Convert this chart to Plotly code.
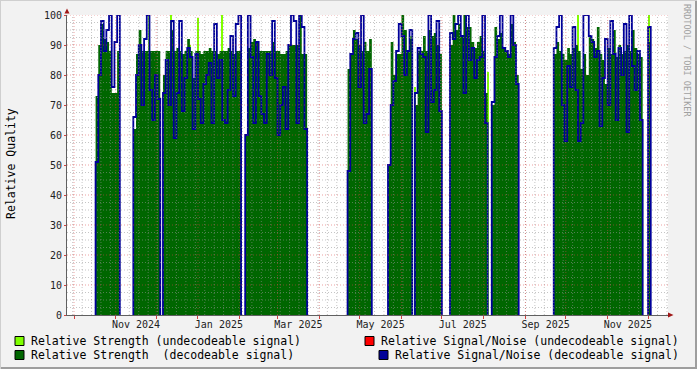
import plotly.graph_objects as go
from datetime import datetime, timedelta

# ---------------- data ----------------
STEP_DAYS = 2  # consolidation step of the RRD archive

seg_starts = ["2024-10-17", "2024-11-14", "2024-12-06", "2025-02-05", "2025-04-22",
              "2025-05-22", "2025-06-11", "2025-07-07", "2025-08-07", "2025-09-22",
              "2025-12-01"]

strength_seg1 = [73, 90, 97, 92, 91, 88, 74, 74, 88]
snr_seg1 = [51, 80, 98, 88, 95, 100, 76, 91, 100]

strength_seg2 = [62, 87, 95, 88, 88, 88, 88, 88, 88, 88]
snr_seg2 = [66, 80, 90, 70, 92, 100, 75, 65, 80, 72]

strength_seg3 = [80, 88, 88, 95, 88, 89, 88, 87, 88, 92, 88, 79, 88, 88, 87,
                 88, 88, 89, 88, 88, 87, 88, 88, 88, 89, 88, 87, 88, 88]
snr_seg3 = [74, 85, 70, 98, 59, 74, 98, 68, 79, 89, 86, 62, 87, 72, 64,
            77, 80, 84, 64, 97, 79, 85, 65, 64, 75, 93, 73, 97, 100]

strength_seg4 = [60, 89, 91, 92, 91, 88, 88, 88, 88, 88, 91, 88, 88, 87, 87,
                 88, 90, 90, 90, 90, 100, 87, 87]
snr_seg4 = [60, 100, 86, 64, 91, 73, 67, 64, 87, 80, 98, 79, 60, 70, 76,
            62, 90, 100, 98, 64, 100, 96, 62]

strength_seg5 = [82, 87, 95, 92, 90, 88, 91, 88, 92]
snr_seg5 = [48, 87, 92, 94, 76, 100, 64, 67, 82]

strength_seg6 = [50, 91, 80, 87, 87, 100, 95, 88, 92]
snr_seg6 = [50, 70, 78, 88, 97, 93, 80, 88, 95]

strength_seg7 = [70, 88, 88, 93, 88, 95, 93, 94, 90, 87]
snr_seg7 = [74, 89, 87, 86, 61, 100, 71, 75, 98, 68]

strength_seg8 = [90, 100, 95, 97, 93, 100, 96, 96, 91, 89, 91, 93, 88, 74]
snr_seg8 = [94, 92, 97, 100, 93, 74, 100, 85, 89, 79, 85, 86, 100, 64]

strength_seg9 = [70, 96, 92, 94, 89, 88, 87, 97, 91, 80]
snr_seg9 = [71, 86, 93, 100, 89, 88, 86, 100, 90, 77]

strength_seg10 = [87, 91, 88, 87, 85, 89, 87, 89, 90, 88, 82, 87, 80, 93, 92, 89, 96,
                  87, 85, 77, 89, 87, 95, 86, 90, 87, 88, 90, 88, 95, 89, 87, 86]
snr_seg10 = [89, 96, 100, 70, 58, 83, 76, 96, 75, 58, 64, 100, 100, 93, 91, 86, 88,
             63, 79, 92, 70, 98, 87, 65, 89, 80, 97, 61, 100, 83, 75, 88, 65]

strength_seg11 = [91]
snr_seg11 = [96]

# undecodeable strength (thin spikes, one-day samples)
undec_dates = ["2024-11-26", "2024-12-12", "2024-12-26", "2025-01-01", "2025-01-19",
               "2025-05-25", "2025-06-08", "2025-06-11", "2025-07-23", "2025-08-04",
               "2025-10-10", "2025-10-26", "2025-12-02"]
undec_strength = [100, 100, 90, 99, 100, 89, 93, 76, 91, 81, 100, 77, 100]

strength_segs = [strength_seg1, strength_seg2, strength_seg3, strength_seg4, strength_seg5,
                 strength_seg6, strength_seg7, strength_seg8, strength_seg9, strength_seg10,
                 strength_seg11]
snr_segs = [snr_seg1, snr_seg2, snr_seg3, snr_seg4, snr_seg5, snr_seg6, snr_seg7,
            snr_seg8, snr_seg9, snr_seg10, snr_seg11]

# axis text
y_ticks = [0, 10, 20, 30, 40, 50, 60, 70, 80, 90, 100]
x_label_dates = ["2024-11-16", "2025-01-16 12:00", "2025-03-16 12:00", "2025-05-16 12:00",
                 "2025-07-16 12:00", "2025-09-16", "2025-11-16"]
x_label_text = ["Nov 2024", "Jan 2025", "Mar 2025", "May 2025", "Jul 2025", "Sep 2025", "Nov 2025"]
month_starts = ["2024-10-01", "2024-11-01", "2024-12-01", "2025-01-01", "2025-02-01",
                "2025-03-01", "2025-04-01", "2025-05-01", "2025-06-01", "2025-07-01",
                "2025-08-01", "2025-09-01", "2025-10-01", "2025-11-01", "2025-12-01"]
x_range = ["2024-09-25 19:00", "2025-12-15 19:00"]

legend_items = [
    ("Relative Strength (undecodeable signal)", "#7FFF00"),
    ("Relative Signal/Noise (undecodeable signal)", "#FF0000"),
    ("Relative Strength  (decodeable signal)", "#006600"),
    ("Relative Signal/Noise (decodeable signal)", "#000099"),
]

# ---------------- figure ----------------
W, H = 697, 369
L, R, T, B = 67, 668, 15, 315
FONT = "DejaVu Sans Mono"


def px_x(p):
    return (p - L) / (R - L)


def px_y(p):
    return (B - p) / (B - T)


fig = go.Figure()

# undecodeable strength spikes
fig.add_trace(go.Bar(x=undec_dates, y=undec_strength, width=86400000,
                     marker=dict(color="#7FFF00", line=dict(width=0)),
                     showlegend=False, hoverinfo="skip"))

snr_x, snr_y = [], []
for start, st, sn in zip(seg_starts, strength_segs, snr_segs):
    d0 = datetime.strptime(start, "%Y-%m-%d")
    xs = [d0 + timedelta(days=STEP_DAYS * i) for i in range(len(st))]
    end = d0 + timedelta(days=STEP_DAYS * len(st))
    fig.add_trace(go.Scatter(x=xs + [end], y=st + [st[-1]], mode="lines",
                             line=dict(width=0, shape="hv"), fill="tozeroy",
                             fillcolor="#006600", showlegend=False, hoverinfo="skip"))
    snr_x += [d0] + xs + [end, end, None]
    snr_y += [0] + sn + [sn[-1], 0, None]

fig.add_trace(go.Scatter(x=snr_x, y=snr_y, mode="lines",
                         line=dict(color="#000099", width=1.8, shape="hv"),
                         connectgaps=False, showlegend=False, hoverinfo="skip"))

shapes = []
# grid (drawn above data like rrdtool)
minor_col = "rgba(150,150,150,0.55)"
major_col = "rgba(220,70,70,0.5)"
d = datetime(2024, 9, 30)
xend = datetime(2025, 12, 15)
while d <= xend:
    shapes.append(dict(type="line", xref="x", yref="paper", x0=d, x1=d, y0=0, y1=1,
                       line=dict(color=minor_col, width=1, dash="1px,2px"), layer="above"))
    d += timedelta(days=7)
for m in month_starts:
    shapes.append(dict(type="line", xref="x", yref="paper", x0=m, x1=m, y0=0, y1=1,
                       line=dict(color=major_col, width=1, dash="1px,2px"), layer="above"))
v = 2.5
while v < 100.1:
    col = major_col if abs(v % 10) < 1e-9 else minor_col
    shapes.append(dict(type="line", xref="paper", yref="y", x0=0, x1=1, y0=v, y1=v,
                       line=dict(color=col, width=1, dash="1px,2px"), layer="above"))
    v += 2.5

# axis arrows
arrow_col = "#A01818"
shapes.append(dict(type="path", xref="paper", yref="paper", fillcolor=arrow_col,
                   line=dict(width=0),
                   path=f"M {px_x(64.5)},{px_y(13.5)} L {px_x(69.5)},{px_y(13.5)} L {px_x(67)},{px_y(8.5)} Z"))
shapes.append(dict(type="path", xref="paper", yref="paper", fillcolor=arrow_col,
                   line=dict(width=0),
                   path=f"M {px_x(668)},{px_y(312.5)} L {px_x(668)},{px_y(317.5)} L {px_x(673.5)},{px_y(315)} Z"))

# outer frame shading
shapes.append(dict(type="line", xref="paper", yref="paper", x0=px_x(0), x1=px_x(697),
                   y0=px_y(368), y1=px_y(368), line=dict(color="#9E9E9E", width=2)))
shapes.append(dict(type="line", xref="paper", yref="paper", x0=px_x(696), x1=px_x(696),
                   y0=px_y(0), y1=px_y(369), line=dict(color="#9E9E9E", width=2)))
shapes.append(dict(type="line", xref="paper", yref="paper", x0=px_x(0), x1=px_x(697),
                   y0=px_y(0.5), y1=px_y(0.5), line=dict(color="#CFCFCF", width=1)))
shapes.append(dict(type="line", xref="paper", yref="paper", x0=px_x(0.5), x1=px_x(0.5),
                   y0=px_y(0), y1=px_y(369), line=dict(color="#CFCFCF", width=1)))

annotations = []
# legend
leg_pos = [(15, 341, 30), (365, 341, 380), (15, 355, 30), (379, 355, 394)]
for (txt, col), (sx, cy, tx) in zip(legend_items, leg_pos):
    shapes.append(dict(type="rect", xref="paper", yref="paper",
                       x0=px_x(sx), x1=px_x(sx + 9), y0=px_y(cy - 4.5), y1=px_y(cy + 4.5),
                       fillcolor=col, line=dict(color="#000000", width=1)))
    annotations.append(dict(xref="paper", yref="paper", x=px_x(tx - 1), y=px_y(cy),
                            xanchor="left", yanchor="middle", showarrow=False, text=txt,
                            font=dict(family=FONT, size=11.5, color="#000000")))

annotations.append(dict(xref="paper", yref="paper", x=px_x(11), y=px_y(164),
                        xanchor="center", yanchor="middle", showarrow=False,
                        text="Relative Quality", textangle=-90,
                        font=dict(family=FONT, size=11.5, color="#000000")))
annotations.append(dict(xref="paper", yref="paper", x=px_x(687), y=px_y(60),
                        xanchor="center", yanchor="middle", showarrow=False,
                        text="RRDTOOL / TOBI OETIKER", textangle=90,
                        font=dict(family=FONT, size=8.5, color="#A0A0A0")))

fig.update_layout(
    template="none",
    width=W, height=H,
    margin=dict(l=L, r=W - R, t=T, b=H - B, pad=0, autoexpand=False),
    paper_bgcolor="#F2F2F2", plot_bgcolor="#FFFFFF",
    showlegend=False, bargap=0,
    shapes=shapes, annotations=annotations,
    font=dict(family=FONT, size=10, color="#222222"),
    xaxis=dict(type="date", range=x_range, showgrid=False, zeroline=False,
               automargin=False,
               tickmode="array", tickvals=x_label_dates, ticktext=x_label_text,
               ticks="", showline=True, linecolor="#606060", linewidth=1,
               tickfont=dict(family=FONT, size=10, color="#222222"),
               minor=dict(tickmode="array", tickvals=month_starts, ticks="outside",
                          ticklen=3, tickcolor="#D04040", showgrid=False),
               fixedrange=True),
    yaxis=dict(range=[0, 100], showgrid=False, zeroline=False,
               automargin=False,
               tickmode="array", tickvals=y_ticks, ticks="outside", ticklen=2,
               tickcolor="#D04040", showline=True, linecolor="#606060", linewidth=1,
               tickfont=dict(family=FONT, size=10, color="#222222"),
               fixedrange=True),
)

fig.write_html("out.html", config={"displayModeBar": False},
               post_script="document.body.style.margin='0';document.body.style.overflow='hidden';")
